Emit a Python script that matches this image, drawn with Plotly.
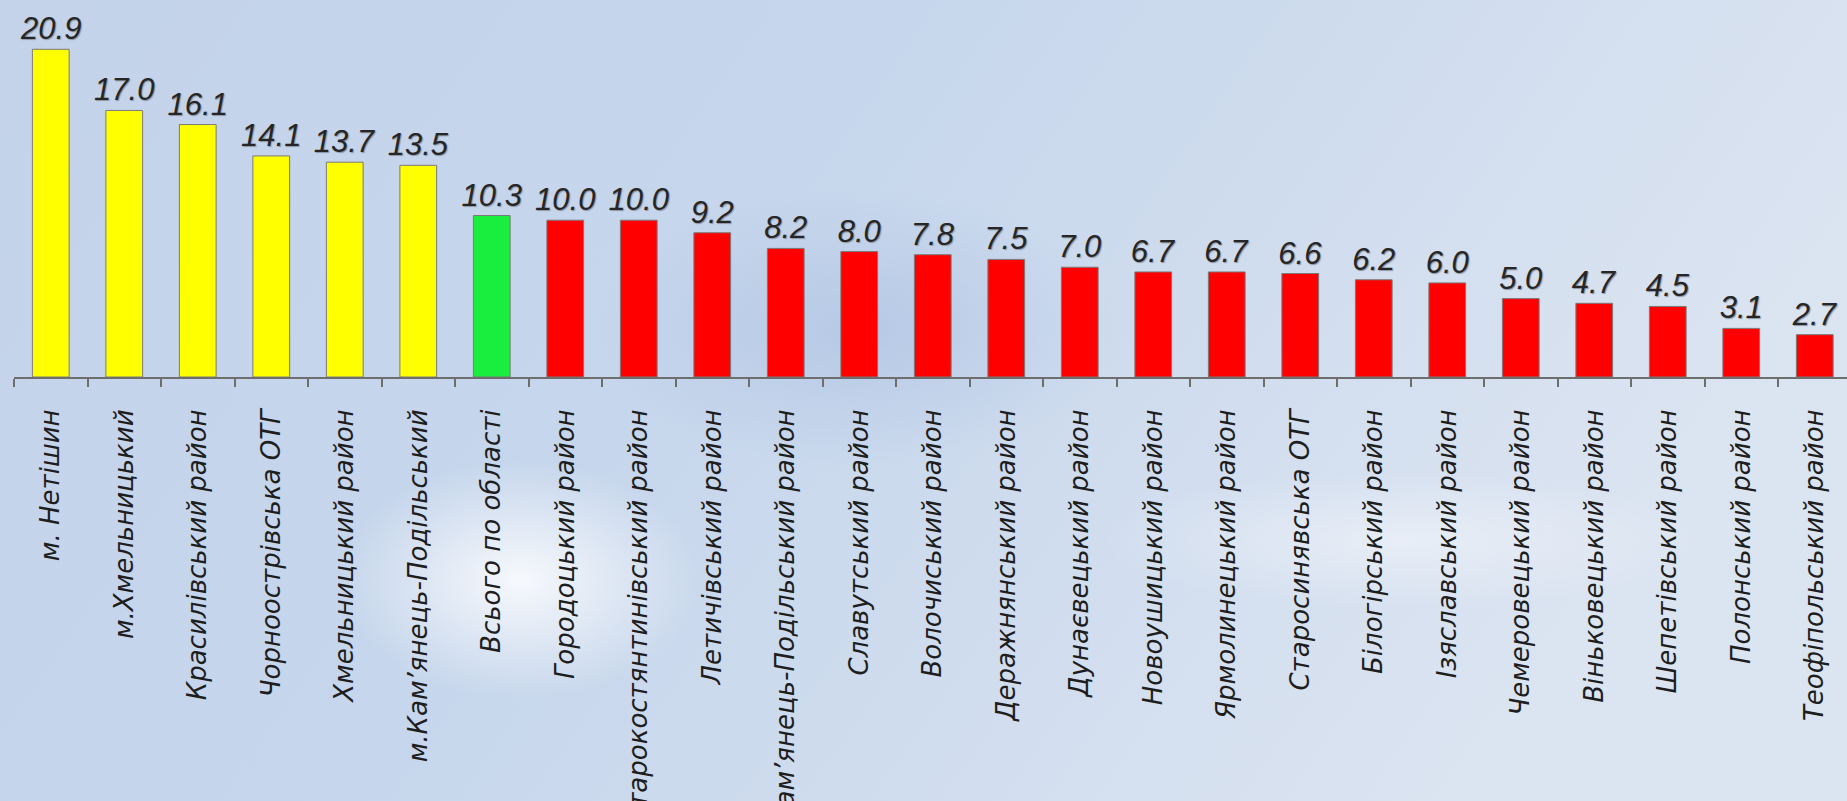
import base64
import plotly.graph_objects as go

categories = [
    "м. Нетішин", "м.Хмельницький", "Красилівський район", "Чорноострівська ОТГ",
    "Хмельницький район", "м.Кам’янець-Подільський", "Всього по області",
    "Городоцький район", "Старокостянтинівський район", "Летичівський район",
    "Кам’янець-Подільський район", "Славутський район", "Волочиський район",
    "Деражнянський район", "Дунаєвецький район", "Новоушицький район",
    "Ярмолинецький район", "Старосинявська ОТГ", "Білогірський район",
    "Ізяславський район", "Чемеровецький район", "Віньковецький район",
    "Шепетівський район", "Полонський район", "Теофіпольський район",
]
values = [20.9, 17.0, 16.1, 14.1, 13.7, 13.5, 10.3, 10.0, 10.0, 9.2, 8.2, 8.0, 7.8,
          7.5, 7.0, 6.7, 6.7, 6.6, 6.2, 6.0, 5.0, 4.7, 4.5, 3.1, 2.7]
groups = ["top"] * 6 + ["total"] + ["rest"] * 18
group_colors = {"top": "#FFFF00", "total": "#19EE3F", "rest": "#FF0000"}
bar_colors = [group_colors[g] for g in groups]
value_text = [f"{v:.1f}" for v in values]

W, H = 1847, 801
ML, MT = 14, 0
PLOT_H = 377
MB = H - MT - PLOT_H

bg_svg = f'''<svg xmlns="http://www.w3.org/2000/svg" width="{W}" height="{H}" viewBox="0 0 {W} {H}">
<defs>
<linearGradient id="g" x1="0" y1="0" x2="1" y2="0.3">
<stop offset="0" stop-color="#c4d3ea"/>
<stop offset="0.45" stop-color="#c6d6ec"/>
<stop offset="1" stop-color="#dbe4f1"/>
</linearGradient>
<radialGradient id="c" cx="0.5" cy="0.5" r="0.5">
<stop offset="0" stop-color="#ffffff" stop-opacity="0.85"/>
<stop offset="1" stop-color="#ffffff" stop-opacity="0"/>
</radialGradient>
<radialGradient id="d" cx="0.5" cy="0.5" r="0.5">
<stop offset="0" stop-color="#a9bfe0" stop-opacity="0.6"/>
<stop offset="1" stop-color="#a9bfe0" stop-opacity="0"/>
</radialGradient>
</defs>
<rect width="{W}" height="{H}" fill="url(#g)"/>
<ellipse cx="860" cy="330" rx="260" ry="140" fill="url(#d)"/>
<ellipse cx="520" cy="580" rx="180" ry="120" fill="url(#c)"/>
<ellipse cx="1400" cy="540" rx="300" ry="70" fill="url(#c)" opacity="0.5"/>
</svg>'''
bg_uri = "data:image/svg+xml;base64," + base64.b64encode(bg_svg.encode("utf-8")).decode("ascii")

fig = go.Figure(
    go.Bar(
        x=categories,
        y=values,
        marker=dict(color=bar_colors, line=dict(color="#7a7a7a", width=1)),
        text=value_text,
        textposition="outside",
        constraintext="none",
        cliponaxis=False,
        textfont=dict(
            family="Liberation Sans Narrow, Arial Narrow, Liberation Sans, sans-serif",
            size=31, color="#262626", style="italic",
            shadow="1px 1px 1px #8a94a4",
        ),
        hoverinfo="skip",
    )
)

plot_w = W - ML
cat_px = 73.5
x_max = -0.5 + plot_w / cat_px
px_per_unit = 15.68
y_max = PLOT_H / px_per_unit

fig.update_layout(
    width=W, height=H,
    margin=dict(l=ML, r=0, t=MT, b=MB, autoexpand=False),
    paper_bgcolor="#c8d7ec",
    plot_bgcolor="rgba(0,0,0,0)",
    bargap=0.5,
    showlegend=False,
    images=[dict(
        source=bg_uri, xref="paper", yref="paper",
        x=-ML / plot_w, y=(PLOT_H + MT) / PLOT_H,
        sizex=W / plot_w, sizey=H / PLOT_H,
        xanchor="left", yanchor="top", sizing="stretch", layer="below",
    )],
    xaxis=dict(
        type="category",
        range=[-0.5, x_max],
        showline=True, linecolor="#6e6e6e", linewidth=2,
        ticks="outside", tickson="boundaries", ticklen=8, tickwidth=2, tickcolor="#6e6e6e",
        tickangle=-90,
        ticklabelstandoff=20,
        tickfont=dict(family="DejaVu Sans, sans-serif", size=26, color="#1e1e1e", style="italic"),
        showgrid=False, zeroline=False, automargin=False, fixedrange=True,
    ),
    yaxis=dict(
        range=[0, y_max], visible=False, showgrid=False, zeroline=False, fixedrange=True,
    ),
)

fig.write_html(
    "out.html",
    config={"displayModeBar": False},
    post_script="document.body.style.margin='0';document.body.style.overflow='hidden';",
)
